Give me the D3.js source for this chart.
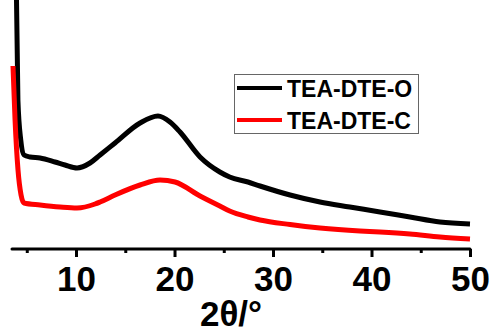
<!DOCTYPE html>
<html>
<head>
<meta charset="utf-8">
<script src="https://cdn.jsdelivr.net/npm/d3@7"></script>
<style>
  body { margin: 0; background: #fff; }
  text { font-family: "Liberation Sans", Arial, sans-serif; font-weight: bold; }
</style>
</head>
<body>
<div id="main"></div>
<script>
var ctx = {
    w: 491,
    h: 334,
    x0: 12,
    x1: 470,
    yAxis: 249,
};

// 2theta (deg) and intensity (a.u.)
var thetaO = [3.95, 4.1, 4.39, 4.72, 5.33, 6.35, 7.87, 8.88, 10.1, 11.42, 12.44, 13.96, 16.5, 18.32, 19.54, 20.56, 22.59, 24.6, 25.6, 27.46, 28.68, 31.73, 34.77, 37.8, 40.86, 43.9, 46.95, 50];
var intensO = [2540, 1490, 1090, 940, 920, 910, 870, 840, 810, 860, 940, 1060, 1260, 1330, 1270, 1170, 920, 770, 720, 670, 630, 540, 470, 420, 370, 320, 270, 250];

var thetaC = [3.6, 3.81, 4.11, 4.42, 4.72, 6.35, 8.38, 10.1, 11.93, 12.44, 13.96, 16.5, 18.53, 20.05, 22.59, 24.6, 25.6, 27.46, 28.68, 31.73, 34.77, 38.83, 40.86, 43.9, 46.95, 50];
var intensC = [1830, 1290, 790, 540, 460, 440, 420, 410, 450, 470, 540, 640, 690, 670, 530, 430, 380, 320, 290, 245, 210, 180, 170, 150, 120, 100];

var seriesNames = ["TEA-DTE-O", "TEA-DTE-C"];
var seriesColors = ["#000000", "#ff0000"];
var majorTicks = [10, 20, 30, 40, 50];
var minorTicks = [5, 15, 25, 35, 45];

var svg = d3.select("#main").append("svg")
    .attr("width", ctx.w)
    .attr("height", ctx.h);

var x = d3.scaleLinear().domain([3.5, 50]).range([ctx.x0, ctx.x1]);
var y = d3.scaleLinear().domain([0, 2490]).range([ctx.yAxis, 0]);

svg.append("clipPath").attr("id", "plotclip")
   .append("rect").attr("x", 0).attr("y", 0).attr("width", ctx.w).attr("height", ctx.yAxis);

var line = d3.line()
    .x(function(d){ return x(d[0]); })
    .y(function(d){ return y(d[1]); })
    .curve(d3.curveMonotoneX);

var series = [d3.zip(thetaO, intensO), d3.zip(thetaC, intensC)];

svg.append("g").attr("clip-path", "url(#plotclip)")
   .selectAll("path")
   .data(series)
   .enter().append("path")
   .attr("d", line)
   .attr("fill", "none")
   .attr("stroke", function(d, i){ return seriesColors[i]; })
   .attr("stroke-width", 5)
   .attr("stroke-linejoin", "round");

// bottom axis
var axis = d3.axisBottom(x)
    .tickValues(majorTicks)
    .tickSize(8)
    .tickPadding(9)
    .tickFormat(d3.format("d"));
var gx = svg.append("g")
    .attr("transform", "translate(0," + ctx.yAxis + ")")
    .call(axis);
gx.select(".domain").attr("d", "M" + ctx.x0 + ",0H" + ctx.x1)
  .attr("stroke-width", 3).attr("stroke-linecap", "round");
gx.selectAll(".tick line").attr("stroke-width", 3);
gx.selectAll(".tick text").attr("font-size", 35).attr("fill", "#000")
  .style("font-weight", "bold");

var axisMinor = d3.axisBottom(x).tickValues(minorTicks).tickSize(4).tickFormat("");
var gm = svg.append("g")
    .attr("transform", "translate(0," + ctx.yAxis + ")")
    .call(axisMinor);
gm.select(".domain").remove();
gm.selectAll(".tick line").attr("stroke-width", 3);

svg.append("text")
   .attr("x", 231)
   .attr("y", 326)
   .attr("text-anchor", "middle")
   .attr("font-size", 35)
   .text("2θ/°");

// legend
var legend = svg.append("g");
legend.append("rect")
   .attr("x", 234.5).attr("y", 74.5)
   .attr("width", 184).attr("height", 59)
   .attr("fill", "#fff")
   .attr("stroke", "#666")
   .attr("stroke-width", 1);
var items = legend.selectAll("g.item")
   .data(seriesNames)
   .enter().append("g")
   .attr("transform", function(d, i){ return "translate(0," + (88 + i * 32) + ")"; });
items.append("line")
   .attr("x1", 237).attr("x2", 282)
   .attr("stroke", function(d, i){ return seriesColors[i]; })
   .attr("stroke-width", 4);
items.append("text")
   .attr("x", 287).attr("y", 9)
   .attr("font-size", 23)
   .text(function(d){ return d; });
</script>
</body>
</html>
